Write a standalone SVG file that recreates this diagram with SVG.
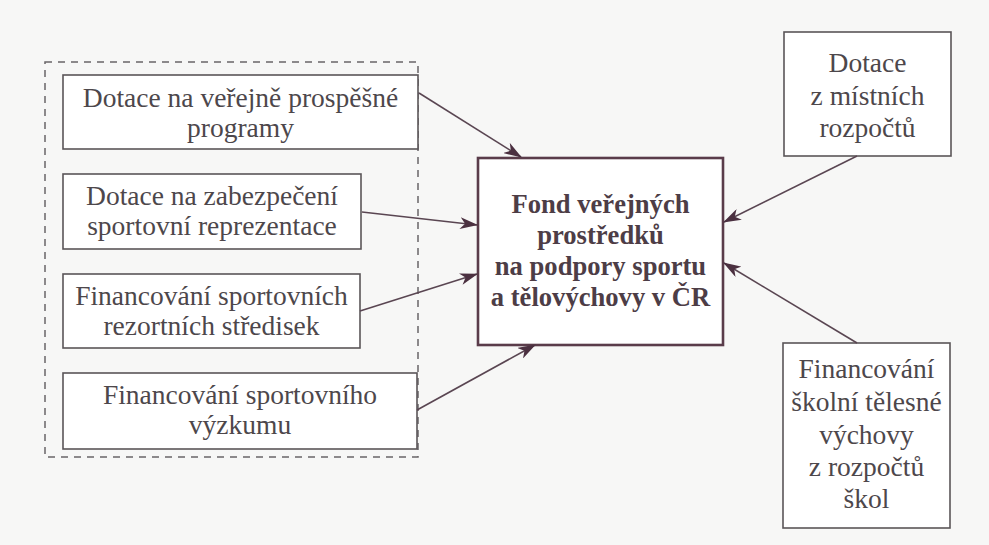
<svg xmlns="http://www.w3.org/2000/svg" width="989" height="545" viewBox="0 0 989 545">
  <defs>
    <marker id="arr" viewBox="0 0 18 12" refX="17" refY="6" markerWidth="18" markerHeight="12" markerUnits="userSpaceOnUse" orient="auto">
      <path d="M0,0 L18,6 L0,12 L5,6 Z" fill="#4b3040"/>
    </marker>
  </defs>
  <style>
    .bg { fill: #f7f7f6; }
    .box { fill: #ffffff; stroke: #5a5558; stroke-width: 1.6; }
    .main { fill: #ffffff; stroke: #5a3c4a; stroke-width: 2.6; }
    .dash { fill: none; stroke: #6a6668; stroke-width: 1.5; stroke-dasharray: 7 6; }
    .t { font-family: "Liberation Serif", "DejaVu Serif", serif; font-size: 27.5px; fill: #4d474b; text-anchor: middle; }
    .tb { font-family: "Liberation Serif", "DejaVu Serif", serif; font-size: 26.6px; font-weight: bold; fill: #4d3d46; text-anchor: middle; }
    .edge { fill: none; stroke: #5a4652; stroke-width: 1.6; marker-end: url(#arr); }
  </style>
  <rect class="bg" x="0" y="0" width="989" height="545"/>

  <g id="group-left">
    <rect class="dash" x="45" y="62" width="373" height="395"/>
  </g>

  <g id="n1">
    <rect class="box" x="63" y="75" width="355" height="74"/>
    <text class="t" x="240.5" y="107">Dotace na veřejně prospěšné</text>
    <text class="t" x="240.5" y="137">programy</text>
  </g>

  <g id="n2">
    <rect class="box" x="63" y="174" width="298" height="75"/>
    <text class="t" x="212" y="205">Dotace na zabezpečení</text>
    <text class="t" x="212" y="235">sportovní reprezentace</text>
  </g>

  <g id="n3">
    <rect class="box" x="63" y="274" width="297" height="74"/>
    <text class="t" x="211.5" y="305">Financování sportovních</text>
    <text class="t" x="211.5" y="335">rezortních středisek</text>
  </g>

  <g id="n4">
    <rect class="box" x="63" y="373" width="354" height="76"/>
    <text class="t" x="240" y="404">Financování sportovního</text>
    <text class="t" x="240" y="434">výzkumu</text>
  </g>

  <g id="center">
    <rect class="main" x="478" y="158" width="245" height="187"/>
    <text class="tb" x="600.5" y="213">Fond veřejných</text>
    <text class="tb" x="600.5" y="244">prostředků</text>
    <text class="tb" x="600.5" y="275">na podpory sportu</text>
    <text class="tb" x="600.5" y="306">a tělovýchovy v ČR</text>
  </g>

  <g id="n5">
    <rect class="box" x="784" y="32" width="167" height="124"/>
    <text class="t" x="867.5" y="72">Dotace</text>
    <text class="t" x="867.5" y="105">z místních</text>
    <text class="t" x="867.5" y="137">rozpočtů</text>
  </g>

  <g id="n6">
    <rect class="box" x="783" y="343" width="167" height="185"/>
    <text class="t" x="866.5" y="378">Financování</text>
    <text class="t" x="866.5" y="411">školní tělesné</text>
    <text class="t" x="866.5" y="444">výchovy</text>
    <text class="t" x="866.5" y="476">z rozpočtů</text>
    <text class="t" x="866.5" y="508">škol</text>
  </g>

  <g id="connectors">
    <line class="edge" x1="419" y1="93" x2="521" y2="157"/>
    <line class="edge" x1="362" y1="212" x2="477" y2="225"/>
    <line class="edge" x1="360" y1="311" x2="477" y2="274"/>
    <line class="edge" x1="417" y1="410" x2="535" y2="345"/>
    <line class="edge" x1="857" y1="156" x2="724" y2="222"/>
    <line class="edge" x1="857" y1="343" x2="724" y2="263"/>
  </g>
</svg>
